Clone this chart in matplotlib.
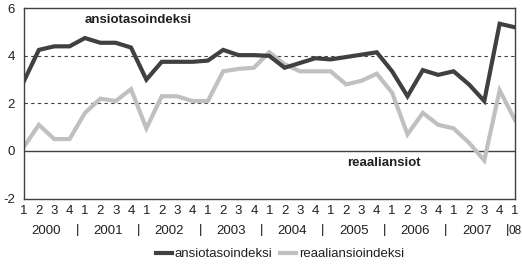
import matplotlib
matplotlib.use("Agg")
import matplotlib.pyplot as plt
import matplotlib.transforms as mtransforms

plt.rcParams['font.family'] = ['Liberation Sans', 'DejaVu Sans']

quarters = ["1", "2", "3", "4"] * 8 + ["1"]
years = ["2000", "2001", "2002", "2003", "2004", "2005", "2006", "2007"]
last_year = "08"

ansiotasoindeksi = [2.9, 4.25, 4.4, 4.4,
                    4.75, 4.55, 4.55, 4.35,
                    3.0, 3.75, 3.75, 3.75,
                    3.8, 4.25, 4.03, 4.03,
                    4.0, 3.5, 3.7, 3.9,
                    3.85, 3.95, 4.05, 4.15,
                    3.35, 2.3, 3.4, 3.2,
                    3.35, 2.8, 2.1, 5.35,
                    5.2]
reaaliansioindeksi = [0.15, 1.1, 0.5, 0.5,
                      1.6, 2.2, 2.1, 2.6,
                      0.95, 2.3, 2.3, 2.1,
                      2.1, 3.35, 3.45, 3.5,
                      4.15, 3.65, 3.35, 3.35,
                      3.35, 2.8, 2.95, 3.25,
                      2.45, 0.7, 1.6, 1.1,
                      0.95, 0.35, -0.4, 2.55,
                      1.3]

dark = '#404040'
light = '#c0c0c0'

fig = plt.figure(figsize=(5.22, 2.64), dpi=100)
ax = fig.add_axes([23.5/522, 1 - 198.5/264, (515 - 23.5)/522, (198.5 - 8.3)/264])

x = list(range(len(quarters)))
ax.plot(x, ansiotasoindeksi, color=dark, lw=3.0, solid_joinstyle='miter', label='ansiotasoindeksi', zorder=3)
ax.plot(x, reaaliansioindeksi, color=light, lw=3.0, solid_joinstyle='miter', label='reaaliansioindeksi', zorder=2)

ax.set_xlim(0, len(quarters) - 1)
ax.set_ylim(-2, 6)
ax.set_yticks([-2, 0, 2, 4, 6])
ax.set_yticklabels(['-2', '0', '2', '4', '6'])
for yv in [2, 4]:
    ax.axhline(yv, color=dark, lw=0.8, ls=(0, (3, 3)), zorder=1)
ax.axhline(0, color=dark, lw=1.0, zorder=1)

for s in ax.spines.values():
    s.set_color(dark)
    s.set_linewidth(1.0)

ax.set_xticks(x)
ax.set_xticklabels(quarters)
ax.tick_params(axis='both', length=0, labelsize=9.5, colors='#202020')
ax.tick_params(axis='x', pad=5)
ax.tick_params(axis='y', pad=6)

trans = mtransforms.blended_transform_factory(ax.transData, fig.transFigure)
yy = 1 - 230.5/264
for k, yr in enumerate(years):
    ax.text(4*k + 1.5, yy, yr, transform=trans, ha='center', va='center', fontsize=9.5, color='#202020')
    ax.text(4*k + 3.5, yy, '|', transform=trans, ha='center', va='center', fontsize=9.5, color='#202020')
ax.text(521.5/522, yy, last_year, transform=fig.transFigure, ha='right', va='center', fontsize=8.5,
        color='#202020', clip_on=False)

ax.text(85/522, 1 - 20/264, 'ansiotasoindeksi', transform=fig.transFigure, ha='left', va='center',
        fontsize=9.5, fontweight='bold', color='#202020')
ax.text(347/522, 1 - 163/264, 'reaaliansiot', transform=fig.transFigure, ha='left', va='center',
        fontsize=9.5, fontweight='bold', color='#202020')

leg = fig.legend(loc='center', bbox_to_anchor=(280/522, 1 - 254/264), ncol=2, frameon=False,
                 fontsize=9.5, handlelength=1.2, handletextpad=0.2, columnspacing=0.6,
                 borderaxespad=0, borderpad=0)
for t in leg.get_texts():
    t.set_color('#202020')

fig.savefig('out.png', dpi=100)
